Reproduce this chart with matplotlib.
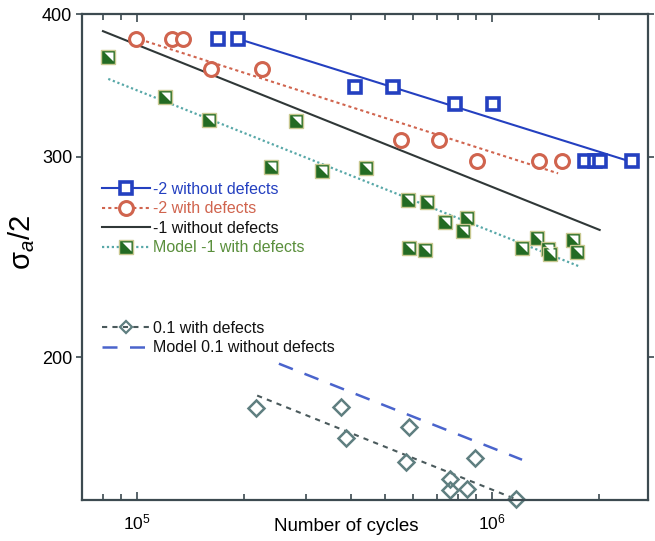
import matplotlib
matplotlib.use("Agg")
import matplotlib.pyplot as plt
from matplotlib.lines import Line2D
from matplotlib.path import Path
from matplotlib.ticker import FixedLocator, NullLocator, FixedFormatter, LogLocator
import numpy as np

plt.rcParams['font.family'] = ['Liberation Sans', 'DejaVu Sans']
plt.rcParams['mathtext.fontset'] = 'custom'
plt.rcParams['mathtext.rm'] = 'Liberation Sans'
plt.rcParams['mathtext.it'] = 'Liberation Sans:italic'

# -2 without defects
neg2_wo_x = [1.69e5, 1.93e5, 4.11e5, 5.26e5, 7.87e5, 1.007e6, 1.83e6, 1.95e6, 2.01e6, 2.48e6]
neg2_wo_y = [380, 380, 345, 345, 333.5, 333.5, 297.5, 297.5, 297.5, 297.5]
neg2_wo_fit_x = [1.95e5, 2.37e6]
neg2_wo_fit_y = [380, 298]

# -2 with defects
neg2_w_x = [0.995e5, 1.255e5, 1.348e5, 1.616e5, 2.25e5, 5.54e5, 7.09e5, 9.07e5, 1.357e6, 1.574e6]
neg2_w_y = [380, 380, 380, 358, 358, 310, 310, 297.5, 297.5, 297.5]
neg2_w_fit_x = [1.02e5, 1.535e6]
neg2_w_fit_y = [380, 290]

# -1 without defects (fit only)
neg1_wo_fit_x = [0.802e5, 2.01e6]
neg1_wo_fit_y = [386.4, 258.7]

# Model -1 with defects
neg1_w_x = [0.83e5, 1.20e5, 1.595e5, 2.80e5, 2.39e5, 3.32e5, 4.42e5, 5.80e5, 6.56e5, 7.37e5,
            8.50e5, 8.29e5, 5.84e5, 6.48e5, 1.215e6, 1.339e6, 1.438e6, 1.456e6, 1.691e6, 1.734e6]
neg1_w_y = [366.8, 338.4, 323.0, 322.4, 293.8, 291.2, 293.3, 274.8, 273.7, 262.9,
            265.1, 258.1, 249.5, 248.4, 249.5, 254.6, 249.0, 246.3, 253.4, 247.5]
neg1_w_fit_x = [0.83e5, 1.77e6]
neg1_w_fit_y = [350.9, 240.2]

# 0.1 with defects
r01_w_x = [2.16e5, 3.755e5, 3.88e5, 5.84e5, 5.72e5, 8.96e5, 7.61e5, 7.61e5, 8.50e5, 1.168e6]
r01_w_y = [180.7, 180.9, 170.1, 173.9, 162.1, 163.4, 156.6, 153.2, 153.5, 150.4]
r01_w_fit_x = [2.18e5, 1.17e6]
r01_w_fit_y = [185.2, 150.2]

# Model 0.1 without defects (fit only)
r01_wo_fit_x = [2.51e5, 1.215e6]
r01_wo_fit_y = [197.5, 162.7]

labels1 = ['-2 without defects', '-2 with defects', '-1 without defects', 'Model -1 with defects']
labels2 = ['0.1 with defects', 'Model 0.1 without defects']
yticks = [200, 300, 400]
ytick_labels = ['200', '300', '400']
xticks = [1e5, 1e6]
xtick_labels = [r'$10^5$', r'$10^6$']

c_blue = '#2440c0'
c_red = '#d0644e'
c_black = '#303838'
c_green_line = '#58a8a8'
c_green_mk = '#236b23'
c_green_txt = '#5a8f3c'
c_dia = '#5f7f80'
c_bdash = '#4a64cc'
frame_c = '#3c4a50'

fig = plt.figure(figsize=(6.55, 5.41), dpi=100)
ax = fig.add_axes([0.1252, 0.0758, 0.8641, 0.8983])
ax.set_xscale('log')
ax.set_yscale('log')
ax.set_xlim(7.0e4, 2.75e6)
ax.set_ylim(150, 400)

# lines
ax.plot(neg2_wo_fit_x, neg2_wo_fit_y, '-', color=c_blue, lw=1.5)
ax.plot(neg2_w_fit_x, neg2_w_fit_y, color=c_red, lw=1.5, ls=(0, (1.5, 1.5)))
ax.plot(neg1_wo_fit_x, neg1_wo_fit_y, '-', color=c_black, lw=1.5)
ax.plot(neg1_w_fit_x, neg1_w_fit_y, color=c_green_line, lw=1.6, ls=(0, (1, 1.2)))
ax.plot(r01_w_fit_x, r01_w_fit_y, color='#4a5a5c', lw=1.5, ls=(0, (2.5, 2.5)))
ax.plot(r01_wo_fit_x, r01_wo_fit_y, color=c_bdash, lw=1.8, ls=(0, (6, 5)))

# markers
ax.plot(neg2_wo_x, neg2_wo_y, 's', ms=9, mfc='white', mec=c_blue, mew=2.6, ls='none')
ax.plot(neg2_w_x, neg2_w_y, 'o', ms=10, mfc='white', mec=c_red, mew=2.2, ls='none')

tri = Path([(-0.35, 0.4), (0.4, 0.4), (0.4, -0.35), (-0.35, 0.4)],
           [Path.MOVETO, Path.LINETO, Path.LINETO, Path.CLOSEPOLY])
ax.plot(neg1_w_x, neg1_w_y, 's', ms=10, mfc=c_green_mk, mec='#c8c890', mew=1.0, ls='none')
ax.plot(neg1_w_x, neg1_w_y, marker=tri, ms=7, mfc='white', mec='none', ls='none')

ax.plot(r01_w_x, r01_w_y, 'D', ms=8, mfc='none', mec=c_dia, mew=1.8, ls='none', clip_on=False)

# axes styling
for sp in ax.spines.values():
    sp.set_color(frame_c)
    sp.set_linewidth(1.6)
ax.xaxis.set_major_locator(FixedLocator(xticks))
ax.xaxis.set_major_formatter(FixedFormatter(xtick_labels))
ax.xaxis.set_minor_locator(LogLocator(base=10, subs=np.arange(2, 10)))
ax.xaxis.set_minor_formatter(FixedFormatter([]))
ax.yaxis.set_major_locator(FixedLocator(yticks))
ax.yaxis.set_major_formatter(FixedFormatter(ytick_labels))
ax.yaxis.set_minor_locator(NullLocator())
ax.tick_params(axis='x', which='both', direction='in', top=True, bottom=True,
               length=4, width=1.2, color=frame_c, labelsize=12.5, pad=9)
ax.tick_params(axis='x', which='major', length=6)
ax.tick_params(axis='y', which='both', direction='out', left=True, right=True,
               length=4, width=1.2, color=frame_c, labelsize=13, pad=3)
ax.set_xlabel('Number of cycles', fontsize=13.5)
ax.xaxis.set_label_coords(0.466, -0.038)
ax.set_ylabel(r'$\mathrm{\sigma}_a\mathrm{/2}$', fontsize=21)
ax.yaxis.set_label_coords(-0.08, 0.53)

# legend 1
h1 = [Line2D([], [], color=c_blue, lw=1.5, marker='s', ms=9, mfc='white', mec=c_blue, mew=2.6),
      Line2D([], [], color=c_red, lw=1.5, ls=(0, (1.5, 1.5)), marker='o', ms=10, mfc='white', mec=c_red, mew=2.2),
      Line2D([], [], color=c_black, lw=1.5),
      (Line2D([], [], color=c_green_line, lw=1.6, ls=(0, (1, 1.2)), marker='s', ms=10,
              mfc=c_green_mk, mec='#c8c890', mew=1.0),
       Line2D([], [], ls='none', marker=tri, ms=7, mfc='white', mec='none'))]
leg1 = ax.legend(h1, labels1, loc='upper left', bbox_to_anchor=(0.035, 0.655), frameon=False,
                 fontsize=11.5, handlelength=3.0, handletextpad=0.2, labelspacing=0.28,
                 borderpad=0, borderaxespad=0)
for t, c in zip(leg1.get_texts(), [c_blue, c_red, '#111111', c_green_txt]):
    t.set_color(c)
ax.add_artist(leg1)

h2 = [Line2D([], [], color='#4a5a5c', lw=1.5, ls=(0, (2.5, 2.5)), marker='D', ms=6, mfc='none', mec=c_dia, mew=1.6),
      Line2D([], [], color=c_bdash, lw=1.8, ls=(0, (6, 5)))]
leg2 = ax.legend(h2, labels2, loc='upper left', bbox_to_anchor=(0.035, 0.369), frameon=False,
                 fontsize=11.5, handlelength=3.0, handletextpad=0.2, labelspacing=0.3,
                 borderpad=0, borderaxespad=0)
for t in leg2.get_texts():
    t.set_color('#111111')

fig.savefig('out.png', dpi=100)
